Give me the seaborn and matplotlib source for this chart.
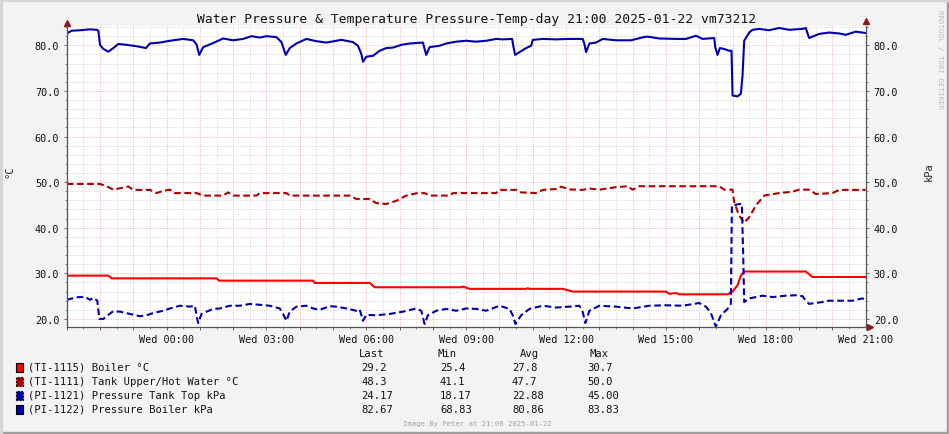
import numpy as np
import pandas as pd
import seaborn as sns
from matplotlib import pyplot as plt
from matplotlib.patches import Rectangle
from matplotlib.ticker import MultipleLocator, FuncFormatter

# hours relative to Wed 00:00
boiler_temp_t = [-3.0, -1.75, -1.65, 1.5, 1.58, 4.4, 4.45, 6.1, 6.25, 8.85,
                 8.9, 9.1, 10.8, 10.85, 10.9, 11.9, 12.2, 15.0, 15.1, 15.3,
                 15.4, 16.85, 17.0, 17.15, 17.25, 17.35, 19.2, 19.4, 21.0]
boiler_temp_v = [29.5, 29.5, 28.9, 28.9, 28.4, 28.4, 27.9, 27.9, 26.95, 26.95,
                 27.1, 26.6, 26.6, 26.75, 26.6, 26.6, 26.0, 26.0, 25.5, 25.7,
                 25.4, 25.4, 26.0, 27.4, 29.5, 30.4, 30.4, 29.2, 29.2]

tank_upper_t = [-3.0, -2.0, -1.8, -1.6, -1.15, -1.0, -0.5, -0.3, -0.1, 0.1,
                0.25, 0.9, 1.1, 1.7, 1.85, 2.0, 2.7, 2.8, 3.6, 3.7,
                5.5, 5.7, 6.1, 6.3, 6.6, 6.9, 7.2, 7.5, 7.75, 7.9,
                8.5, 8.6, 9.9, 10.0, 10.5, 10.65, 11.1, 11.3, 11.7, 11.85,
                12.1, 12.5, 12.7, 13.0, 13.5, 13.85, 14.0, 14.2, 16.6, 16.75,
                17.0, 17.05, 17.2, 17.35, 17.5, 17.7, 17.95, 18.4, 18.8, 19.0,
                19.3, 19.5, 20.0, 20.2, 21.0]
tank_upper_v = [49.6, 49.6, 49.1, 48.35, 49.05, 48.3, 48.3, 47.6, 48.1, 48.35,
                47.6, 47.6, 47.05, 47.05, 47.75, 47.05, 47.05, 47.6, 47.6, 47.05,
                47.05, 46.3, 46.3, 45.4, 45.2, 45.9, 47.05, 47.55, 47.6, 47.05,
                47.05, 47.6, 47.6, 48.3, 48.3, 47.75, 47.6, 48.3, 48.5, 49.0,
                48.4, 48.3, 48.6, 48.35, 48.9, 49.1, 48.35, 49.1, 49.1, 48.35,
                48.35, 45.6, 42.65, 41.1, 42.3, 44.85, 47.05, 47.6, 47.9, 48.35,
                48.35, 47.4, 47.6, 48.3, 48.3]

tank_top_t = [-3.0, -2.7, -2.45, -2.3, -2.2, -2.08, -2.02, -1.9, -1.75, -1.6,
              -1.4, -1.1, -0.8, -0.6, -0.4, -0.1, 0.1, 0.4, 0.7, 0.85,
              0.9, 0.95, 1.05, 1.2, 1.4, 1.6, 1.9, 2.2, 2.5, 2.8,
              3.1, 3.4, 3.5, 3.6, 3.7, 3.9, 4.2, 4.4, 4.6, 4.9,
              5.1, 5.4, 5.7, 5.8, 5.9, 6.0, 6.3, 6.7, 7.1, 7.5,
              7.65, 7.75, 7.85, 8.1, 8.4, 8.7, 9.0, 9.3, 9.6, 10.0,
              10.3, 10.4, 10.48, 10.65, 10.9, 11.3, 11.7, 12.1, 12.4, 12.5,
              12.58, 12.7, 13.0, 13.5, 14.0, 14.5, 15.0, 15.5, 16.0, 16.2,
              16.35, 16.5, 16.65, 16.85, 16.95, 16.98, 17.2, 17.28, 17.32, 17.35,
              17.5, 17.9, 18.2, 18.6, 18.9, 19.1, 19.2, 19.3, 19.6, 19.9,
              20.6, 20.9, 21.0]
tank_top_v = [24.2, 24.75, 24.85, 24.2, 24.6, 24.0, 20.0, 20.0, 20.9, 21.7,
              21.6, 21.1, 20.6, 20.8, 21.3, 21.8, 22.3, 22.9, 22.7, 22.9,
              20.7, 19.1, 21.1, 21.6, 22.2, 22.3, 22.9, 22.9, 23.3, 23.1,
              22.9, 22.3, 21.1, 19.6, 21.6, 22.7, 22.9, 22.3, 22.0, 22.8,
              22.7, 22.3, 21.8, 22.1, 19.6, 20.9, 20.8, 21.1, 21.6, 22.3,
              21.8, 18.9, 20.8, 21.8, 22.2, 21.8, 22.3, 22.2, 21.8, 22.9,
              22.2, 20.8, 18.9, 20.8, 22.2, 22.9, 22.5, 22.7, 22.9, 21.5,
              19.1, 21.8, 22.9, 22.7, 22.3, 22.9, 23.0, 22.9, 23.5, 22.7,
              21.3, 18.3, 20.8, 22.2, 23.3, 44.85, 45.2, 45.2, 34.0, 23.7,
              24.5, 25.1, 24.8, 25.1, 25.2, 25.0, 24.0, 23.3, 23.6, 24.0,
              24.0, 24.5, 24.2]

boiler_pres_t = [-3.0, -2.85, -2.6, -2.3, -2.1, -2.05, -2.0, -1.9, -1.75, -1.6,
                 -1.45, -1.2, -0.9, -0.62, -0.5, -0.2, 0.1, 0.5, 0.8, 0.9,
                 0.98, 1.1, 1.4, 1.7, 2.0, 2.3, 2.55, 2.8, 3.0, 3.3,
                 3.45, 3.58, 3.7, 3.9, 4.2, 4.5, 4.8, 5.25, 5.6, 5.75,
                 5.85, 5.9, 6.0, 6.2, 6.4, 6.6, 6.8, 7.05, 7.3, 7.5,
                 7.7, 7.75, 7.8, 7.9, 8.2, 8.4, 8.7, 9.0, 9.3, 9.6,
                 9.9, 10.1, 10.38, 10.42, 10.47, 10.6, 10.8, 10.95, 11.0, 11.3,
                 11.7, 12.1, 12.5, 12.55, 12.6, 12.7, 12.9, 13.1, 13.5, 13.95,
                 14.3, 14.45, 14.8, 15.3, 15.6, 15.9, 16.1, 16.45, 16.48, 16.55,
                 16.62, 16.75, 16.9, 16.97, 17.0, 17.15, 17.25, 17.3, 17.35, 17.5,
                 17.6, 17.8, 18.1, 18.4, 18.7, 19.1, 19.2, 19.3, 19.6, 19.9,
                 20.2, 20.4, 20.7, 20.9, 21.0]
boiler_pres_v = [82.6, 83.2, 83.3, 83.5, 83.4, 83.2, 80.1, 79.2, 78.6, 79.4,
                 80.3, 80.1, 79.8, 79.4, 80.4, 80.6, 81.0, 81.4, 81.1, 80.2,
                 77.9, 79.6, 80.5, 81.5, 81.1, 81.4, 82.0, 81.7, 82.0, 81.8,
                 80.7, 77.9, 79.4, 80.4, 81.4, 80.9, 80.6, 81.2, 80.7, 79.9,
                 78.1, 76.4, 77.5, 77.7, 78.8, 79.4, 79.5, 80.1, 80.4, 80.5,
                 80.6, 79.2, 77.9, 79.6, 79.9, 80.4, 80.8, 81.0, 80.8, 81.0,
                 81.4, 81.3, 81.4, 79.6, 77.9, 78.5, 79.4, 79.9, 81.2, 81.4,
                 81.3, 81.4, 81.4, 80.3, 78.5, 80.4, 80.6, 81.4, 81.1, 81.1,
                 81.75, 81.9, 81.5, 81.4, 81.4, 82.1, 81.4, 81.6, 79.6, 77.9,
                 79.4, 79.2, 78.8, 78.8, 69.0, 68.8, 69.4, 73.3, 81.0, 82.8,
                 83.4, 83.6, 83.3, 83.8, 83.4, 83.6, 83.8, 81.6, 82.5, 82.8,
                 82.6, 82.3, 83.0, 82.8, 82.7]

names = ["(TI-1115) Boiler °C", "(TI-1111) Tank Upper/Hot Water °C",
         "(PI-1121) Pressure Tank Top kPa", "(PI-1122) Pressure Boiler kPa"]
last = ["29.2", "48.3", "24.17", "82.67"]
mins = ["25.4", "41.1", "18.17", "68.83"]
avgs = ["27.8", "47.7", "22.88", "80.86"]
maxs = ["30.7", "50.0", "45.00", "83.83"]

colors = ["#ff0000", "#b00000", "#0000b0", "#0000b0"]
dashed = [False, True, True, False]

W, H = 949, 435


def fx(px):
    return px / W


def fy(py):
    return 1 - py / H


sns.set_theme(style="white")
plt.rcParams["font.family"] = ["DejaVu Sans Mono", "DejaVu Sans"]

fig = plt.figure(figsize=(W / 100, H / 100), dpi=100, facecolor="#f3f3f3")

left, right, top, bottom = 66.7, 865.7, 26.7, 328.3
ax = fig.add_axes([fx(left), fy(bottom), (right - left) / W, (bottom - top) / H])
ax.set_facecolor("white")

series = [(boiler_temp_t, boiler_temp_v), (tank_upper_t, tank_upper_v),
          (tank_top_t, tank_top_v), (boiler_pres_t, boiler_pres_v)]
for (t, v), c, d in zip(series, colors, dashed):
    df = pd.DataFrame({"hour": t, "value": v})
    ls = (0, (3.2, 1.7)) if d else "-"
    sns.lineplot(data=df, x="hour", y="value", ax=ax, color=c, linewidth=1.5,
                 linestyle=ls, estimator=None, sort=False, legend=False)

ax.set_xlim(-3, 21)
ax.set_ylim(18.17, 84.3)
ax.set_xlabel("")
ax.set_ylabel("")

ax.xaxis.set_major_locator(MultipleLocator(1))
ax.xaxis.set_minor_locator(MultipleLocator(0.5))
ax.yaxis.set_major_locator(MultipleLocator(10))
ax.yaxis.set_minor_locator(MultipleLocator(2))
ax.xaxis.set_major_formatter(FuncFormatter(
    lambda v, p: f"Wed {int(round(v)) % 24:02d}:00" if v >= 0 and round(v) % 3 == 0 else ""))
ax.yaxis.set_major_formatter(FuncFormatter(lambda v, p: f"{v:.1f}"))

ax.set_axisbelow(True)
ax.grid(which="minor", color="#d6d6d6", linestyle=(0, (1, 1.4)), linewidth=0.72)
ax.grid(which="major", color="#f4b4b4", linestyle=(0, (1, 1.4)), linewidth=0.72)

ax.tick_params(axis="x", which="major", length=2.5, width=0.7, color="#666666",
               labelsize=7.3, pad=2.5, labelcolor="#111111", bottom=True)
ax.tick_params(axis="x", which="minor", length=1.5, width=0.7, color="#888888", bottom=True)
ax.tick_params(axis="y", which="major", length=2, width=0.7, color="#666666",
               labelsize=7.3, pad=3.3, labelcolor="#111111", left=True)
ax.tick_params(axis="y", which="minor", length=1.2, width=0.7, color="#888888", left=True)

for s in ["top", "right"]:
    ax.spines[s].set_visible(False)
for s in ["left", "bottom"]:
    ax.spines[s].set_color("#555555")
    ax.spines[s].set_linewidth(0.9)

ax2 = ax.twinx()
ax2.set_ylim(ax.get_ylim())
ax2.yaxis.set_major_locator(MultipleLocator(10))
ax2.yaxis.set_minor_locator(MultipleLocator(2))
ax2.yaxis.set_major_formatter(FuncFormatter(lambda v, p: f"{v:.1f}"))
ax2.tick_params(axis="y", which="major", length=2, width=0.7, color="#666666",
                labelsize=7.3, pad=3.8, labelcolor="#111111", right=True)
ax2.tick_params(axis="y", which="minor", length=1.2, width=0.7, color="#888888", right=True)
ax2.grid(False)
for s in ["top", "left", "bottom"]:
    ax2.spines[s].set_visible(False)
ax2.spines["right"].set_color("#555555")
ax2.spines["right"].set_linewidth(0.9)

# axis arrows
arrow_c = "#8b1a1a"
ax.plot([0], [1.01], marker="^", markersize=4, color=arrow_c,
        transform=ax.transAxes, clip_on=False)
ax.plot([1.0], [1.015], marker="^", markersize=4, color=arrow_c,
        transform=ax.transAxes, clip_on=False)
ax.plot([1.006], [0], marker=">", markersize=4, color=arrow_c,
        transform=ax.transAxes, clip_on=False)

# title and labels
fig.text(fx(477), fy(19), "Water Pressure & Temperature Pressure-Temp-day 21:00 2025-01-22 vm73212",
         ha="center", va="center", fontsize=9.4, color="#111111")
fig.text(fx(9), fy(172), "°C", rotation=90, ha="center", va="center", fontsize=7.5)
fig.text(fx(929), fy(172), "kPa", rotation=90, ha="center", va="center", fontsize=7.5)
fig.text(fx(940), fy(60), "RRDTOOL / TOBI OETIKER", rotation=270, ha="center",
         va="center", fontsize=5.3, color="#bbbbbb")

# legend table
fs = 7.6
for x, lab in zip([359, 437, 520, 590], ["Last", "Min", "Avg", "Max"]):
    fig.text(fx(x), fy(354), lab, ha="left", va="center", fontsize=fs, color="#111111")
rows_y = [368, 382, 396, 410]
for i, y in enumerate(rows_y):
    fig.patches.append(Rectangle((fx(16), fy(y + 4.5)), 7 / W, 9 / H,
                                 transform=fig.transFigure, facecolor=colors[i],
                                 edgecolor="black", linewidth=0.8,
                                 linestyle=(0, (1.5, 1.5)) if dashed[i] else "-"))
    fig.text(fx(28), fy(y), names[i], ha="left", va="center", fontsize=fs, color="#111111")
    for x, vals in zip([361, 440, 512, 587], [last, mins, avgs, maxs]):
        fig.text(fx(x), fy(y), vals[i], ha="left", va="center", fontsize=fs, color="#111111")

fig.text(fx(477), fy(424), "Image By Peter at 21:00 2025-01-22", ha="center",
         va="center", fontsize=5.2, color="#a0a0a0")

# 3d-ish border
fig.patches.append(Rectangle((0, 0), 1, 2 / H, transform=fig.transFigure, color="#9e9e9e"))
fig.patches.append(Rectangle((1 - 2 / W, 0), 2 / W, 1, transform=fig.transFigure, color="#9e9e9e"))
fig.patches.append(Rectangle((0, 1 - 2 / H), 1, 2 / H, transform=fig.transFigure, color="#d6d6d6"))
fig.patches.append(Rectangle((0, 0), 2 / W, 1, transform=fig.transFigure, color="#d6d6d6"))

fig.savefig("out.png", dpi=100, facecolor=fig.get_facecolor())
